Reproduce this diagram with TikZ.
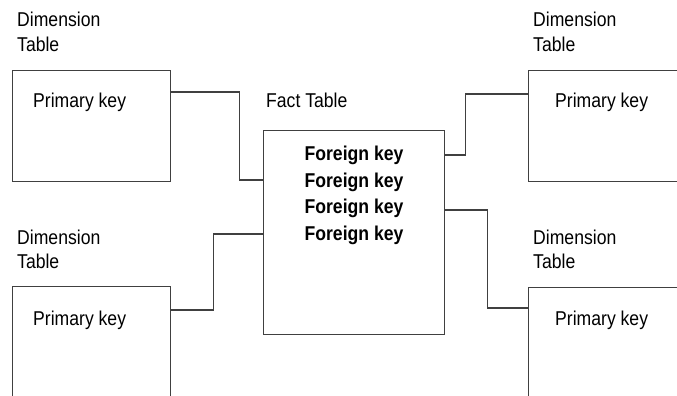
\documentclass[tikz,border=0pt]{standalone}
\usepackage{fontspec}
\setmainfont{Liberation Sans}
\usepackage{graphicx}
\newcommand{\sq}[1]{\scalebox{0.88}[1]{#1}}
\begin{document}
\begin{tikzpicture}[x=1pt,y=-1pt,
  box/.style={draw=black!75,line width=1.2pt,rectangle,inner sep=0pt,anchor=north west},
  lbl/.style={inner sep=0pt,anchor=base west,font=\fontsize{20}{24}\selectfont},
  fk/.style={inner sep=0pt,anchor=base,font=\fontsize{20}{24}\selectfont\bfseries},
  link/.style={draw=black!75,line width=1.2pt}]
\useasboundingbox (0,0) rectangle (677,396);
\clip (0,0) rectangle (677,396);
% boxes
\node[box,minimum width=158pt,minimum height=111pt] (dtl) at (12,70) {};
\node[box,minimum width=200pt,minimum height=111pt] (dtr) at (528,70) {};
\node[box,minimum width=158pt,minimum height=140pt] (dbl) at (12,286) {};
\node[box,minimum width=200pt,minimum height=140pt] (dbr) at (528,287) {};
\node[box,minimum width=181pt,minimum height=204pt] (fact) at (263,130) {};
% labels
\node[lbl] (tla) at (17,27) {\sq{Dimension}};
\node[lbl] (tlb) at (17,52) {\sq{Table}};
\node[lbl] (tra) at (533,27) {\sq{Dimension}};
\node[lbl] (trb) at (533,52) {\sq{Table}};
\node[lbl] (bla) at (17,244) {\sq{Dimension}};
\node[lbl] (blb) at (17,268) {\sq{Table}};
\node[lbl] (bra) at (533,244) {\sq{Dimension}};
\node[lbl] (brb) at (533,268) {\sq{Table}};
\node[lbl] (ftl) at (266,107) {\sq{Fact Table}};
\node[lbl] (pk1) at (33,107) {\sq{Primary key}};
\node[lbl] (pk2) at (555,107) {\sq{Primary key}};
\node[lbl] (pk3) at (33,325) {\sq{Primary key}};
\node[lbl] (pk4) at (555,325) {\sq{Primary key}};
\node[fk] (fk1) at (354,160) {\sq{Foreign key}};
\node[fk] (fk2) at (354,187) {\sq{Foreign key}};
\node[fk] (fk3) at (354,213) {\sq{Foreign key}};
\node[fk] (fk4) at (354,240) {\sq{Foreign key}};
% connectors
\draw[link] ([yshift=-22pt]dtl.north east) -- ++(68,0) |- ([yshift=-50pt]fact.north west);
\draw[link] ([yshift=-24pt]dbl.north east) -- ++(42,0) |- ([yshift=-104pt]fact.north west);
\draw[link] ([yshift=-25pt]fact.north east) -- ++(20,0) |- ([yshift=-24pt]dtr.north west);
\draw[link] ([yshift=-80pt]fact.north east) -- ++(42,0) |- ([yshift=-21pt]dbr.north west);
\end{tikzpicture}
\end{document}
